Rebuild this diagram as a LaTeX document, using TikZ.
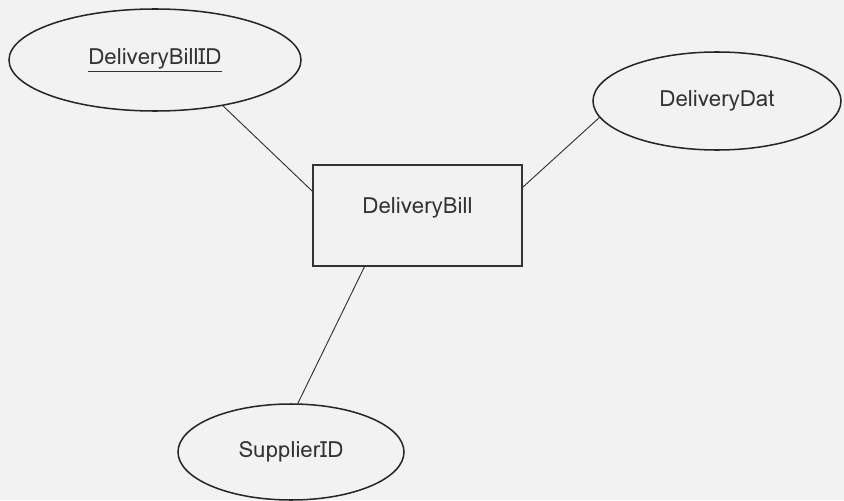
\documentclass[tikz,border=0pt]{standalone}
\usepackage{fontspec}
\setmainfont{Loma}
\usepackage{tikz}
\usetikzlibrary{positioning,shapes.geometric,calc}

\definecolor{paper}{HTML}{F2F2F2}
\definecolor{ink}{HTML}{333333}

\begin{document}
\begin{tikzpicture}[
    every node/.style={font=\fontsize{19}{22}\selectfont, text=ink},
    entity/.style={rectangle, draw=ink, line width=1.1pt, minimum width=6.27cm, minimum height=3.03cm, text depth=0.6cm},
    attr/.style={ellipse, draw=black!85, line width=1.3pt, inner sep=0pt},
    link/.style={draw=ink, line width=0.8pt}
]
% Page
\fill[paper] (0,0) rectangle (25.32,15);
\useasboundingbox (0,0) rectangle (25.32,15);

% Entity
\node[entity] (bill) at (12.525,8.535) {DeliveryBill};

% Attributes
\node[attr, minimum width=8.76cm, minimum height=3.06cm] (billid) at (4.65,13.2) {\underline{DeliveryBillID}};
\node[attr, minimum width=7.44cm, minimum height=2.94cm] (date) at (21.51,11.97) {DeliveryDat};
\node[attr, minimum width=6.78cm, minimum height=2.88cm] (supplier) at (8.73,1.44) {SupplierID};

\draw[link] (billid.-34) -- (bill.167);
\draw[link] (bill.15) -- (date.188);
\draw[link] (bill.224) -- (supplier.82);
\end{tikzpicture}
\end{document}
